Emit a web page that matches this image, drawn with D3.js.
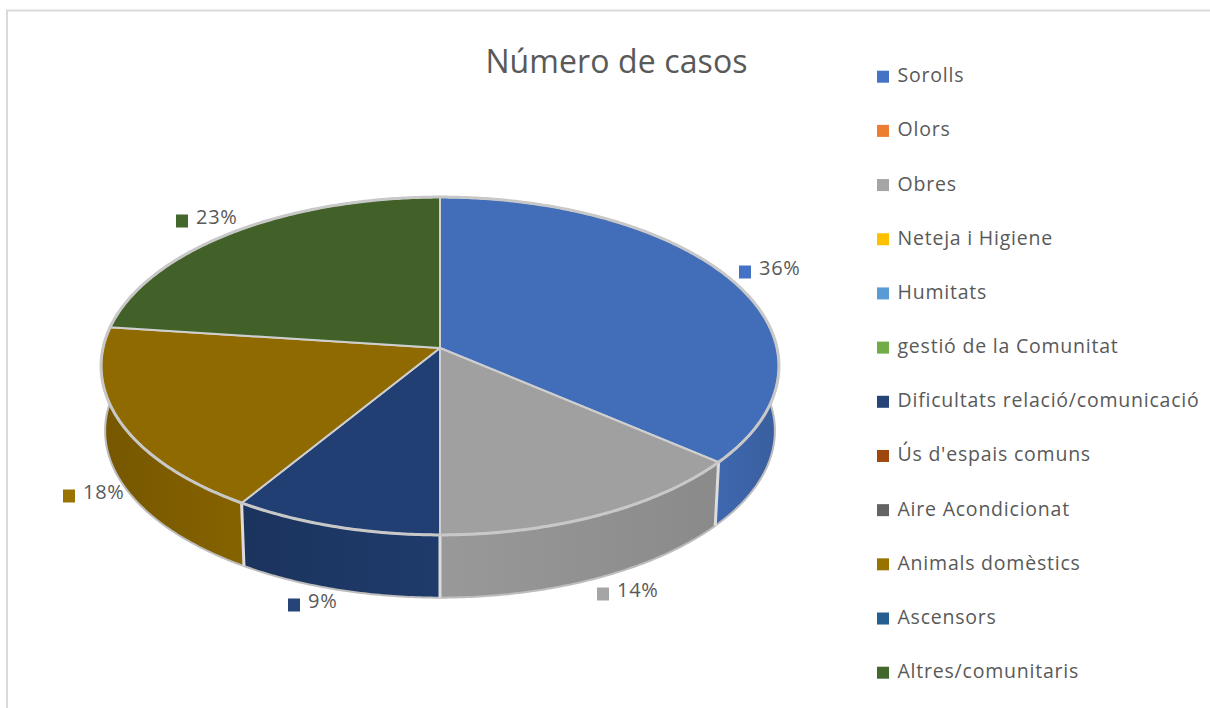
<!DOCTYPE html>
<html>
<head>
<meta charset="utf-8">
<script src="https://cdn.jsdelivr.net/npm/d3@7/dist/d3.min.js"></script>
<style>
html,body{margin:0;padding:0;background:#fff;overflow:hidden}
text{font-family:"Open Sans",sans-serif;fill:#595959}
</style>
</head>
<body>
<svg id="chart" width="1210" height="708"></svg>
<script>
const titleText = "Número de casos";
const categories = ["Sorolls","Olors","Obres","Neteja i Higiene","Humitats","gestió de la Comunitat","Dificultats relació/comunicació","Ús d'espais comuns","Aire Acondicionat","Animals domèstics","Ascensors","Altres/comunitaris"];
const percentages = [36,0,14,0,0,0,9,0,0,18,0,23];
const legendColors = ["#4472c4","#ed7d31","#a5a5a5","#ffc000","#5b9bd5","#70ad47","#264478","#9e480e","#636363","#997300","#255e91","#43682b"];
const topColors = ["#426db8","#ed7d31","#a0a0a0","#ffc000","#5b9bd5","#70ad47","#213f72","#9e480e","#636363","#8f6a00","#255e91","#416129"];
// layout of the data labels (swatch centre), kept apart from the values
const labelAnchors = {"Sorolls":[745,272],"Obres":[603,594],"Dificultats relació/comunicació":[294,605],"Animals domèstics":[69,496],"Altres/comunitaris":[182,221]};

const svg = d3.select("#chart");
const defs = svg.append("defs");

// frame
svg.append("path").attr("d","M7,708V10.5H1210").attr("fill","none").attr("stroke","#d9d9d9").attr("stroke-width",2);

// title
svg.append("text").attr("x",616.5).attr("y",73).attr("text-anchor","middle").attr("font-size",32).attr("letter-spacing",0.1).text(titleText);

// perspective projection of the pie disc: u,v on the unit circle
const cx = 440, cy = 348, k = 0.1065, a = 337, b = 167, depth = 65, shrink = 0.988;
const sx = d3.scaleLinear().domain([-1,1]).range([cx-a,cx+a]);
const sy = d3.scaleLinear().domain([1,-1]).range([cy-b,cy+b]);
function project(angle, level){
  const u = Math.sin(angle), v = Math.cos(angle), w = 1+k*v, s = level ? shrink : 1;
  return [sx(u/w*s), sy(v/w*s)+(level?depth:0)];
}
const line = d3.line();
const pie = d3.pie().sort(null).value((d,i)=>percentages[i]);
const arcs = pie(categories).map((d,i)=>({...d,name:categories[i],i})).filter(d=>d.value>0);

function arcPoints(a0,a1,level){
  const n = Math.max(2,Math.ceil((a1-a0)/0.01));
  return d3.range(n+1).map(j=>project(a0+(a1-a0)*j/n,level));
}

// walls (front half only)
const frontMin = Math.PI*0.35, frontMax = Math.PI*1.65;
const walls = arcs.filter(d=>d.endAngle>frontMin && d.startAngle<frontMax);
walls.forEach(d=>{
  const g = defs.append("linearGradient").attr("id","wall"+d.i);
  const c = d3.color(topColors[d.i]);
  const leftDark = d.startAngle>Math.PI*0.9;
  g.append("stop").attr("offset",0).attr("stop-color",c.darker(leftDark?0.55:0.12));
  g.append("stop").attr("offset",1).attr("stop-color",c.darker(leftDark?0.18:0.42));
});
svg.append("g").selectAll("path").data(walls).join("path")
  .attr("d",d=>{
    const a0=Math.max(d.startAngle,frontMin), a1=Math.min(d.endAngle,frontMax);
    return line([...arcPoints(a0,a1,0),...arcPoints(a0,a1,1).reverse()])+"Z";
  })
  .attr("fill",d=>`url(#wall${d.i})`);
// wall outline on the bottom edge
svg.append("path").attr("d",line(arcPoints(frontMin,frontMax,1))).attr("fill","none").attr("stroke","#bdbdbd").attr("stroke-width",2);
// vertical joints
svg.append("g").selectAll("line").data(arcs.filter(d=>d.startAngle>frontMin && d.startAngle<frontMax)).join("line")
  .attr("x1",d=>project(d.startAngle,0)[0]).attr("y1",d=>project(d.startAngle,0)[1])
  .attr("x2",d=>project(d.startAngle,1)[0]).attr("y2",d=>project(d.startAngle,1)[1])
  .attr("stroke","#dcdcdc").attr("stroke-width",3);

// top faces
svg.append("g").selectAll("path").data(arcs).join("path")
  .attr("d",d=>line([[cx,cy],...arcPoints(d.startAngle,d.endAngle,0)])+"Z")
  .attr("fill",d=>topColors[d.i])
  .attr("stroke","#cfcfcf").attr("stroke-width",2).attr("stroke-linejoin","round");
// rim round the disc
svg.append("path").attr("d",line(arcPoints(0,Math.PI*2,0))+"Z").attr("fill","none").attr("stroke","#c8c8c8").attr("stroke-width",3);

// data labels
const labels = svg.append("g").selectAll("g").data(arcs).join("g")
  .attr("transform",d=>`translate(${labelAnchors[d.name]})`);
labels.append("rect").attr("x",-6).attr("y",-6.5).attr("width",12).attr("height",13).attr("fill",d=>legendColors[d.i]);
labels.append("text").attr("x",14).attr("y",2.5).attr("font-size",20).attr("letter-spacing",0.7).text(d=>d.value+"%");

// legend
const ly = d3.scalePoint().domain(categories).range([76.7,672.7]);
const legend = svg.append("g").selectAll("g").data(categories).join("g")
  .attr("transform",d=>`translate(877,${ly(d)})`);
legend.append("rect").attr("y",-6).attr("width",12).attr("height",12).attr("fill",(d,i)=>legendColors[i]);
legend.append("text").attr("x",20.5).attr("y",5.5).attr("font-size",19.5).attr("letter-spacing",0.78).text(d=>d);
</script>
</body>
</html>
